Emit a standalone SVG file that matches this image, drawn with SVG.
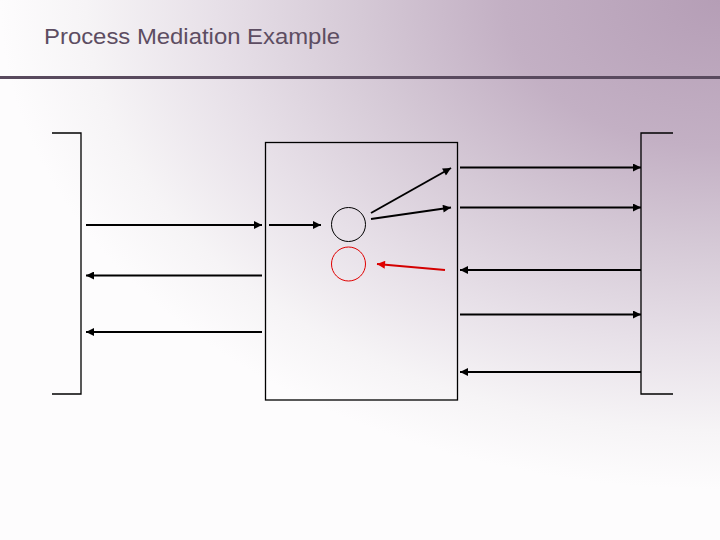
<svg xmlns="http://www.w3.org/2000/svg" width="720" height="540" viewBox="0 0 720 540">
<defs>
<radialGradient id="bg" gradientUnits="userSpaceOnUse" cx="720" cy="0" r="720" fx="720" fy="0" gradientTransform="translate(720 0) scale(1 0.68) translate(-720 0)">
<stop offset="0" stop-color="#b59eb6"/>
<stop offset="0.3" stop-color="#c3b0c4"/>
<stop offset="0.5" stop-color="#d5c9d6"/>
<stop offset="0.7" stop-color="#e7e0e8"/>
<stop offset="0.88" stop-color="#f6f4f6"/>
<stop offset="1" stop-color="#fdfcfd"/>
</radialGradient>
<marker id="ah" viewBox="0 0 10 10" refX="10" refY="5" markerWidth="4.5" markerHeight="4" orient="auto" markerUnits="strokeWidth">
<path d="M0,0 L10,5 L0,10 z" fill="#000"/>
</marker>
<marker id="ahr" viewBox="0 0 10 10" refX="10" refY="5" markerWidth="4.5" markerHeight="4" orient="auto" markerUnits="strokeWidth">
<path d="M0,0 L10,5 L0,10 z" fill="#e00000"/>
</marker>
</defs>
<style>
.ln{stroke:#000;stroke-width:1.3;fill:none}
.ar{stroke:#000;stroke-width:2;fill:none;marker-end:url(#ah)}
.arr{stroke:#d40000;stroke-width:2;fill:none;marker-end:url(#ahr)}
.title{font-family:"Liberation Sans",Arial,sans-serif;font-size:22px;fill:#5d4d62}
</style>
<rect x="0" y="0" width="720" height="540" fill="url(#bg)"/>
<text class="title" x="44" y="43.5" textLength="296" lengthAdjust="spacingAndGlyphs">Process Mediation Example</text>
<line x1="0" y1="77.5" x2="720" y2="77.5" stroke="#594a5e" stroke-width="3"/>

<g id="left-bracket">
<polyline class="ln" points="52,133 81,133 81,394 52,394"/>
</g>
<g id="right-bracket">
<polyline class="ln" points="673,133 641,133 641,394 673,394"/>
</g>
<g id="mediator">
<rect x="265.5" y="142.5" width="192" height="257.5" fill="none" stroke="#000" stroke-width="1.3"/>
</g>
<g id="circle-black">
<circle cx="348.5" cy="224.5" r="17" fill="none" stroke="#000" stroke-width="1"/>
</g>
<g id="circle-red">
<circle cx="348.5" cy="264" r="17" fill="none" stroke="#e00000" stroke-width="1"/>
</g>

<g id="connectors">
<line class="ar" x1="86" y1="225" x2="262" y2="225"/>
<line class="ar" x1="262" y1="275.5" x2="86" y2="275.5"/>
<line class="ar" x1="262" y1="332" x2="86" y2="332"/>
<line class="ar" x1="269" y1="225" x2="321" y2="225"/>
<line class="ar" x1="371" y1="213" x2="451" y2="168"/>
<line class="ar" x1="371" y1="219" x2="451" y2="207.5"/>
<line class="arr" x1="445" y1="270" x2="377" y2="264"/>
<line class="ar" x1="460" y1="167.5" x2="641" y2="167.5"/>
<line class="ar" x1="460" y1="207.5" x2="641" y2="207.5"/>
<line class="ar" x1="641" y1="270" x2="460" y2="270"/>
<line class="ar" x1="460" y1="314.5" x2="641" y2="314.5"/>
<line class="ar" x1="641" y1="372" x2="460" y2="372"/>
</g>
</svg>
